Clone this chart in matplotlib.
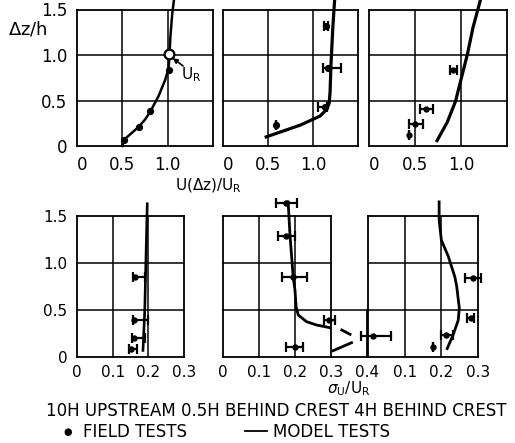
import matplotlib
matplotlib.use("Agg")
import matplotlib.pyplot as plt
from matplotlib.transforms import ScaledTranslation
import numpy as np

# ---------------- data ----------------
# Mean velocity profiles, U(dz)/U_R versus dz/h
# 10H upstream
u1_field_x = [0.52, 0.68, 0.81, 1.01]
u1_field_z = [0.07, 0.21, 0.38, 0.84]
u1_ref_x, u1_ref_z = 1.01, 1.01
u1_model_x = [0.50, 0.52, 0.60, 0.68, 0.75, 0.81, 0.90, 0.97, 1.01, 1.02, 1.03, 1.05, 1.07]
u1_model_z = [0.00, 0.07, 0.14, 0.21, 0.29, 0.38, 0.55, 0.72, 0.85, 1.00, 1.20, 1.45, 1.61]

# 0.5H behind crest
u2_field_x = [0.59, 1.13, 1.17, 1.14]
u2_field_z = [0.23, 0.43, 0.86, 1.32]
u2_err_lo = [0.59, 1.06, 1.11, 1.12]
u2_err_hi = [0.59, 1.16, 1.31, 1.17]
u2_model_x = [0.48, 0.86, 1.08, 1.15, 1.18, 1.19, 1.20, 1.22, 1.24]
u2_model_z = [0.10, 0.23, 0.33, 0.40, 0.47, 0.60, 0.90, 1.30, 1.60]

# 4H behind crest
u3_field_x = [0.44, 0.50, 0.62, 0.91]
u3_field_z = [0.12, 0.24, 0.41, 0.84]
u3_err_lo = [0.44, 0.44, 0.55, 0.88]
u3_err_hi = [0.44, 0.59, 0.70, 0.96]
u3_model_x = [0.74, 0.85, 0.94, 1.00, 1.07, 1.13, 1.21]
u3_model_z = [0.06, 0.26, 0.49, 0.73, 1.01, 1.30, 1.60]

# Turbulence intensity profiles, sigma_u/U_R versus dz/h
# 10H upstream
s1_field_x = [0.151, 0.161, 0.161, 0.162]
s1_field_z = [0.09, 0.205, 0.39, 0.85]
s1_err_lo = [0.146, 0.155, 0.157, 0.156]
s1_err_hi = [0.169, 0.190, 0.200, 0.192]
s1_model_x = [0.185, 0.190, 0.193, 0.197]
s1_model_z = [0.07, 0.50, 1.00, 1.63]

# 0.5H behind crest
s2_field_x = [0.200, 0.418, 0.295, 0.195, 0.175, 0.175]
s2_field_z = [0.11, 0.227, 0.39, 0.85, 1.29, 1.635]
s2_err_lo = [0.175, 0.383, 0.281, 0.163, 0.154, 0.147]
s2_err_hi = [0.223, 0.467, 0.311, 0.234, 0.200, 0.206]
s2_model_x = [0.181, 0.186, 0.195, 0.200, 0.203, 0.209, 0.232, 0.260, 0.297]
s2_model_z = [1.65, 1.30, 0.85, 0.71, 0.535, 0.447, 0.376, 0.340, 0.312]
s2_dash_a_x = [0.330, 0.353]
s2_dash_a_z = [0.287, 0.241]
s2_dash_b_x = [0.357, 0.306]
s2_dash_b_z = [0.152, 0.067]

# 4H behind crest
s3_field_x = [0.178, 0.214, 0.282, 0.285]
s3_field_z = [0.11, 0.234, 0.41, 0.84]
s3_err_lo = [0.178, 0.200, 0.270, 0.264]
s3_err_hi = [0.178, 0.232, 0.290, 0.308]
s3_model_x = [0.194, 0.194, 0.200, 0.219, 0.237, 0.242, 0.249, 0.246, 0.232, 0.216]
s3_model_z = [1.65, 1.46, 1.245, 1.07, 0.85, 0.75, 0.52, 0.39, 0.234, 0.09]

z_ticks = [0, 0.5, 1.0, 1.5]
z_labels = ["0", "0.5", "1.0", "1.5"]
u_ticks = [0, 0.5, 1.0]
u_labels = ["0", "0.5", "1.0"]
s_ticks = [0, 0.1, 0.2, 0.3]
s_labels = ["0", "0.1", "0.2", "0.3"]
s2_ticks = [0, 0.1, 0.2, 0.3, 0.4]
s2_labels = ["0", "0.1", "0.2", "0.3", "0.4"]
s3_ticks = [0.1, 0.2, 0.3]
s3_labels = ["0.1", "0.2", "0.3"]

# ---------------- figure ----------------
W, H = 515, 443
DPI = 100
plt.rcParams["font.family"] = ["DejaVu Sans"]
fig = plt.figure(figsize=(W / DPI, H / DPI), dpi=DPI)
fig.patch.set_facecolor("white")

FRAME_LW = 1.3
GRID_LW = 1.1
CURVE_LW = 2.3
INK = "black"


def px_axes(x0, y0, x1, y1):
    ax = fig.add_axes([x0 / W, 1 - y1 / H, (x1 - x0) / W, (y1 - y0) / H])
    ax.patch.set_alpha(0)
    return ax


def style_axes(ax, xlim, xgrid, ygrid, xticks, xlabels, ylabels=True, pad=8, fs=12):
    ax.set_xlim(*xlim)
    ax.set_ylim(0, 1.5)
    for s in ax.spines.values():
        s.set_linewidth(FRAME_LW)
        s.set_color(INK)
    for g in xgrid:
        ax.axvline(g, color=INK, lw=GRID_LW, zorder=1)
    for g in ygrid:
        ax.axhline(g, color=INK, lw=GRID_LW, zorder=1)
    ax.set_xticks(xticks)
    ax.set_xticklabels(xlabels, fontsize=fs)
    ax.set_yticks(z_ticks)
    if ylabels:
        ax.set_yticklabels(z_labels, fontsize=fs)
    else:
        ax.set_yticklabels([])
    ax.tick_params(length=0, pad=pad)
    ax.tick_params(axis="y", pad=7)


def field(ax, x, z, lo=None, hi=None, ms=4.2):
    if lo is not None:
        x = np.asarray(x)
        xerr = [x - np.asarray(lo), np.asarray(hi) - x]
        ax.errorbar(x, z, xerr=xerr, fmt="o", color=INK, ms=ms, elinewidth=1.6,
                    capsize=3.5, capthick=1.6, clip_on=False, zorder=5)
    else:
        ax.plot(x, z, "o", color=INK, ms=ms, clip_on=False, zorder=5)


def shift_first_label(ax, dx):
    lbl = ax.get_xticklabels()[0]
    lbl.set_transform(lbl.get_transform() + ScaledTranslation(dx / 72, 0, fig.dpi_scale_trans))


# ---- top row: mean velocity ----
top = (9.5, 146)
ax1 = px_axes(77, top[0], 213, top[1])
ax2 = px_axes(223, top[0], 358, top[1])
ax3 = px_axes(369, top[0], 507, top[1])

for ax, yl in ((ax1, True), (ax2, False), (ax3, False)):
    style_axes(ax, (0, 1.5), [0.5, 1.0], [0.5, 1.0], u_ticks, u_labels, ylabels=yl, pad=7)
    shift_first_label(ax, 4)

ax1.plot(u1_model_x, u1_model_z, color=INK, lw=CURVE_LW - 0.5, clip_on=False, zorder=4)
field(ax1, u1_field_x, u1_field_z)
ax1.plot([u1_ref_x], [u1_ref_z], "o", ms=7, mfc="white", mec=INK, mew=1.6, zorder=6, clip_on=False)
ax1.annotate("", xy=(1.055, 0.965), xytext=(1.17, 0.88),
             arrowprops=dict(arrowstyle="-|>", color=INK, lw=1.2, mutation_scale=7,
                             shrinkA=0, shrinkB=0),
             annotation_clip=False)
ax1.text(1.15, 0.78, r"U$_\mathregular{R}$", fontsize=11, ha="left", va="center")

ax2.plot(u2_model_x, u2_model_z, color=INK, lw=CURVE_LW, clip_on=False, zorder=4)
field(ax2, u2_field_x, u2_field_z, u2_err_lo, u2_err_hi)

ax3.plot(u3_model_x, u3_model_z, color=INK, lw=CURVE_LW, clip_on=False, zorder=4)
field(ax3, u3_field_x, u3_field_z, u3_err_lo, u3_err_hi, ms=3.5)

# ---- bottom row: turbulence intensity ----
bot = (216, 357)
ax4 = px_axes(77, bot[0], 184, bot[1])
ax5 = px_axes(223, bot[0], 367, bot[1])
ax6 = px_axes(368, bot[0], 478, bot[1])

style_axes(ax4, (0, 0.3), [0.1, 0.2], [0.5, 1.0], s_ticks, s_labels, pad=6, fs=11)
ax4.plot(s1_model_x, s1_model_z, color=INK, lw=CURVE_LW - 0.4, clip_on=False, zorder=4)
field(ax4, s1_field_x, s1_field_z, s1_err_lo, s1_err_hi, ms=3.6)

# middle panel: open-ended frame, extended to 0.4 below dz/h = 0.5
ax5.set_xlim(0, 0.4)
ax5.set_ylim(0, 1.5)
for s in ax5.spines.values():
    s.set_visible(False)
frame5 = [
    ([0, 0], [0, 1.5], FRAME_LW),
    ([0, 0.3], [1.5, 1.5], FRAME_LW),
    ([0, 0.4], [0, 0], FRAME_LW),
    ([0.3, 0.3], [0, 1.5], FRAME_LW),
    ([0.4, 0.4], [0, 0.5], FRAME_LW),
    ([0.1, 0.1], [0, 1.5], GRID_LW),
    ([0.2, 0.2], [0, 1.5], GRID_LW),
    ([0, 0.3], [1.0, 1.0], GRID_LW),
    ([0, 0.4], [0.5, 0.5], GRID_LW),
]
for xs, zs, lw in frame5:
    ax5.plot(xs, zs, color=INK, lw=lw, clip_on=False, zorder=1, solid_capstyle="projecting")
ax5.set_xticks(s2_ticks)
ax5.set_xticklabels(s2_labels, fontsize=11)
ax5.set_yticks([])
ax5.tick_params(length=0, pad=6)
ax5.plot(s2_model_x, s2_model_z, color=INK, lw=CURVE_LW - 0.3, clip_on=False, zorder=4)
ax5.plot(s2_dash_a_x, s2_dash_a_z, color=INK, lw=CURVE_LW - 0.3, zorder=4)
ax5.plot(s2_dash_b_x, s2_dash_b_z, color=INK, lw=CURVE_LW - 0.3, zorder=4)
field(ax5, s2_field_x, s2_field_z, s2_err_lo, s2_err_hi, ms=3.6)

style_axes(ax6, (0, 0.3), [0.1, 0.2], [0.5, 1.0], s3_ticks, s3_labels, ylabels=False, pad=6, fs=11)
ax6.plot(s3_model_x, s3_model_z, color=INK, lw=CURVE_LW - 0.3, clip_on=False, zorder=4)
field(ax6, s3_field_x, s3_field_z, s3_err_lo, s3_err_hi, ms=3.6)

# ---- axis titles and captions ----
fig.text(28 / W, 1 - 29 / H, r"$\Delta$z/h", fontsize=13, ha="center", va="center")
fig.text(208 / W, 1 - 186 / H, r"U($\Delta$z)/U$_\mathregular{R}$", fontsize=11,
         ha="center", va="center")
fig.text(349 / W, 1 - 389 / H, r"$\sigma_\mathregular{U}$/U$_\mathregular{R}$", fontsize=11,
         ha="center", va="center")
fig.text(276 / W, 1 - 411 / H, "10H UPSTREAM 0.5H BEHIND CREST 4H BEHIND CREST",
         fontsize=12, ha="center", va="center")
fig.text(68 / W, 1 - 432 / H, "\u25cf", fontsize=7, ha="center", va="center")
fig.text(83 / W, 1 - 432 / H, "FIELD TESTS", fontsize=12, ha="left", va="center")
fig.lines.append(plt.Line2D([245 / W, 267 / W], [1 - 431 / H, 1 - 431 / H],
                            transform=fig.transFigure, color=INK, lw=1.3))
fig.text(273 / W, 1 - 432 / H, "MODEL TESTS", fontsize=12, ha="left", va="center")

fig.savefig("out.png", dpi=DPI, facecolor="white")
